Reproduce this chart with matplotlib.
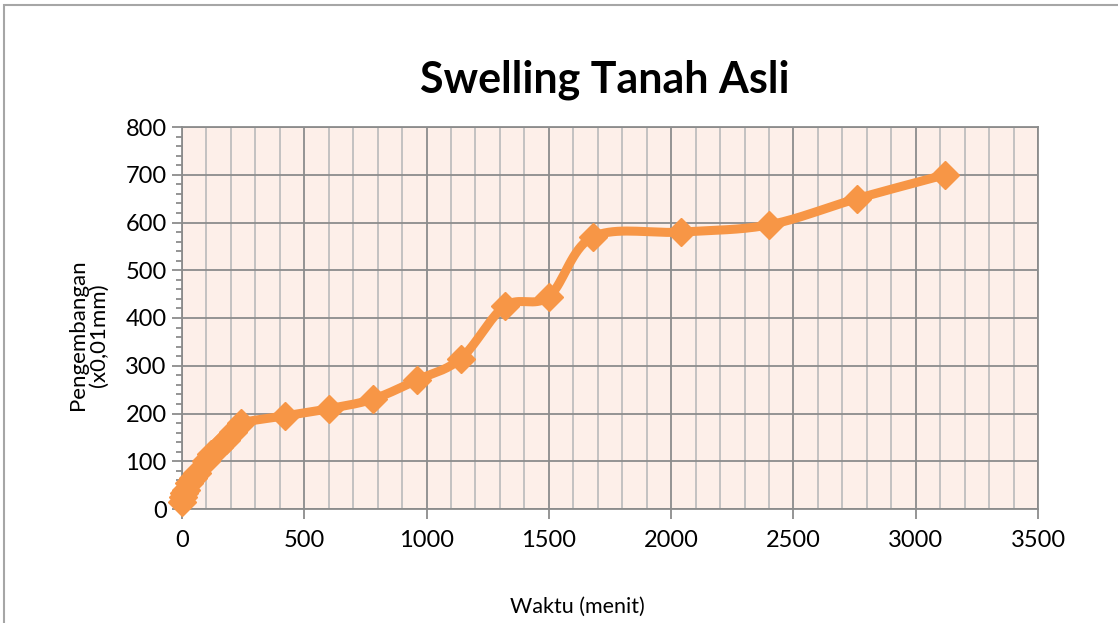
import numpy as np
import matplotlib
matplotlib.use("Agg")
import matplotlib.pyplot as plt
from matplotlib.ticker import MultipleLocator
from matplotlib.patches import Rectangle

# data
waktu = [0, 5, 10, 15, 30, 45, 60, 100, 120, 150, 180, 210, 240,
         420, 600, 780, 960, 1140, 1320, 1500, 1680, 2040, 2400, 2760, 3120]
swell = [15, 25, 33, 40, 55, 65, 75, 100, 115, 130, 145, 162, 180,
         195, 210, 230, 270, 315, 425, 445, 570, 580, 595, 650, 700]

orange = '#F79646'


def smooth(x, y, n=20):
    # excel style smoothed line (catmull-rom through the points)
    x = np.asarray(x, float); y = np.asarray(y, float)
    px = np.concatenate([[x[0]], x, [x[-1]]])
    py = np.concatenate([[y[0]], y, [y[-1]]])
    xs, ys = [], []
    t = np.linspace(0, 1, n)
    for i in range(1, len(px) - 2):
        p0, p1, p2, p3 = [np.array([px[j], py[j]]) for j in (i - 1, i, i + 1, i + 2)]
        c1 = p1 + (p2 - p0) / 6
        c2 = p2 - (p3 - p1) / 6
        b = ((1 - t) ** 3)[:, None] * p1 + (3 * (1 - t) ** 2 * t)[:, None] * c1 \
            + (3 * (1 - t) * t ** 2)[:, None] * c2 + (t ** 3)[:, None] * p2
        xs.extend(b[:, 0]); ys.extend(b[:, 1])
    return xs, ys


plt.rcParams['font.family'] = ['Lato', 'DejaVu Sans']

fig = plt.figure(figsize=(11.18, 6.23), dpi=100)
fig.patches.append(Rectangle((4 / 1118, -0.1), 1.2, 1.1 - 5 / 623, transform=fig.transFigure,
                             fill=False, edgecolor='#A6A6A6', lw=1.5))
ax = fig.add_axes([182 / 1118, 1 - 509 / 623, 856 / 1118, 382 / 623])
ax.set_facecolor('#FDEFE9')

ax.set_xlim(0, 3500)
ax.set_ylim(0, 800)
ax.xaxis.set_major_locator(MultipleLocator(500))
ax.xaxis.set_minor_locator(MultipleLocator(100))
ax.yaxis.set_major_locator(MultipleLocator(100))
ax.yaxis.set_minor_locator(MultipleLocator(20))

ax.grid(which='major', color='#8C8C8C', lw=1.3)
ax.grid(which='minor', axis='x', color='#BEBEBE', lw=1.3)
ax.set_axisbelow(True)

for s in ax.spines.values():
    s.set_color('#8C8C8C')
    s.set_linewidth(1.3)

ax.tick_params(which='major', direction='out', length=7, color='#8C8C8C', width=1.3,
               labelsize=17, pad=8)
ax.tick_params(which='minor', direction='out', length=4, color='#8C8C8C', width=1.3)
ax.tick_params(axis='x', which='minor', length=0)
ax.tick_params(axis='y', pad=4)

sx, sy = smooth(waktu, swell)
ax.plot(sx, sy, color=orange, lw=6.5, solid_capstyle='round', zorder=3, clip_on=False)
ax.plot(waktu, swell, ls='none', marker='D', ms=14, color=orange, zorder=4, clip_on=False)

fig.text(605 / 1118, 1 - 80 / 623, 'Swelling Tanah Asli', ha='center', va='center',
         fontsize=31, fontweight='bold')
fig.text(577 / 1118, 1 - 607 / 623, 'Waktu (menit)', ha='center', va='center', fontsize=15.5)
fig.text(88 / 1118, 1 - 335 / 623, 'Pengembangan\n(x0,01mm)', ha='center', va='center',
         rotation=90, fontsize=16, linespacing=1.05)

fig.savefig('out.png', dpi=100)
